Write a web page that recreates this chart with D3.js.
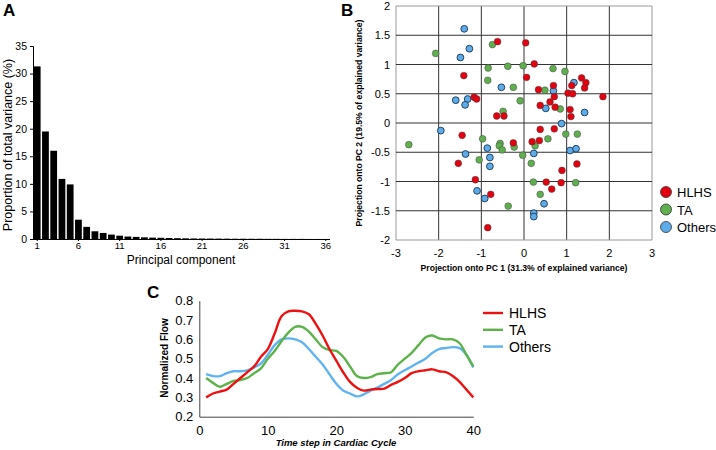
<!DOCTYPE html>
<html lang="en">
<head>
  <meta charset="UTF-8">
  <title>PCA of flow waveforms</title>
  <script src="https://d3js.org/d3.v7.min.js"></script>
  <style>
    body { margin: 0; background: #fff; }
    text { font-family: "Liberation Sans", Arial, sans-serif; }
  </style>
</head>
<body>
  <script>
    // --- panel A: explained variance per principal component
    const components = d3.range(1, 37);
    const variance = [31.3, 19.5, 16.0, 10.9, 9.9, 3.5, 2.2, 1.4, 1.1, 0.8,
      0.6, 0.45, 0.38, 0.3, 0.25, 0.22, 0.18, 0.15, 0.12, 0.1,
      0.09, 0.08, 0.07, 0.06, 0.05, 0.05, 0.04, 0.04, 0.03, 0.03,
      0.02, 0.02, 0.02, 0.01, 0.01, 0.01];
    const compTicks = [1, 6, 11, 16, 21, 26, 31, 36];

    // --- panel B: projections onto PC1 / PC2
    const hlhsPts = [[-0.62,1.39],[0.04,1.37],[0.24,1.01],[-1.41,0.81],[0.06,0.78],[0.34,0.57],
      [0.69,0.64],[0.71,0.45],[-1.17,0.44],[-1.11,0.41],[0.38,0.30],[0.61,0.36],[0.73,0.27],
      [-0.64,0.12],[-0.47,0.12],[1.03,0.51],[1.14,0.50],[1.12,0.64],[1.35,0.77],[1.45,0.69],
      [1.42,0.60],[1.08,0.23],[1.10,0.11],[0.38,-0.11],[0.71,-0.10],[-0.25,-0.34],[0.19,-0.32],
      [0.36,-0.30],[1.24,-0.70],[0.89,-0.81],[-1.14,-0.97],[0.52,-1.01],[0.87,-1.02],[0.65,-1.13],
      [-0.78,-1.22],[-1.45,-0.21],[-1.54,-0.69],[-0.85,-1.79],[1.85,0.45]];
    const taPts = [[-2.07,1.19],[-0.74,1.34],[-0.84,0.94],[-0.38,0.97],[-0.02,0.98],[0.68,0.93],
      [0.96,0.88],[-0.85,0.73],[-0.25,0.61],[0.49,0.56],[-0.09,0.38],[0.85,0.24],[-0.49,0.20],
      [0.98,-0.19],[1.25,-0.19],[-0.97,-0.27],[-0.56,-0.35],[-0.58,-0.39],[-0.51,-0.46],[-0.23,-0.41],
      [0.26,-0.39],[0.56,-0.27],[-0.03,-0.55],[-1.05,-0.63],[0.17,-0.69],[0.22,-1.01],[1.21,-1.02],
      [0.38,-1.22],[-0.37,-1.42],[-2.70,-0.37]];
    const otherPts = [[-1.40,1.61],[-1.28,1.27],[-1.49,1.12],[-0.53,0.61],[0.69,0.55],[-1.60,0.39],
      [-1.32,0.41],[-1.38,0.31],[0.51,0.25],[1.17,0.69],[1.42,0.18],[0.88,-0.01],[-0.86,-0.43],
      [0.23,-0.52],[-0.80,-0.59],[-0.80,-0.74],[1.08,-0.47],[1.22,-0.44],[-1.10,-1.16],[-0.92,-1.29],
      [0.47,-1.38],[-1.95,-0.13],[-1.37,-0.53],[0.23,-1.54],[0.23,-1.60]];
    const pcTicksX = [-3, -2, -1, 0, 1, 2, 3];
    const pcTicksY = [-2, -1.5, -1, -0.5, 0, 0.5, 1, 1.5, 2];

    // --- panel C: mean normalized flow over the cardiac cycle
    const timeSteps = d3.range(1, 41);
    const hlhsFlow = [0.30,0.32,0.33,0.34,0.37,0.40,0.43,0.46,0.51,0.55,
      0.63,0.72,0.745,0.748,0.745,0.73,0.68,0.62,0.55,0.49,
      0.43,0.38,0.35,0.335,0.34,0.343,0.345,0.365,0.38,0.40,
      0.425,0.435,0.44,0.445,0.435,0.43,0.41,0.38,0.34,0.30];
    const taFlow = [0.40,0.375,0.355,0.37,0.385,0.39,0.40,0.425,0.45,0.50,
      0.54,0.59,0.635,0.665,0.665,0.64,0.60,0.56,0.545,0.54,
      0.51,0.46,0.41,0.40,0.405,0.42,0.425,0.43,0.47,0.50,
      0.53,0.57,0.61,0.62,0.605,0.60,0.60,0.58,0.52,0.46];
    const otherFlow = [0.42,0.41,0.41,0.425,0.435,0.435,0.44,0.455,0.475,0.52,
      0.57,0.60,0.605,0.60,0.585,0.55,0.51,0.47,0.42,0.37,
      0.335,0.32,0.305,0.315,0.335,0.35,0.37,0.39,0.42,0.44,
      0.46,0.48,0.50,0.53,0.55,0.555,0.56,0.555,0.52,0.455];

    const groups = ["HLHS", "TA", "Others"];
    const dotColor = { HLHS: "#e3000f", TA: "#5faf4f", Others: "#5dacea" };
    const lineColor = { HLHS: "#ee1111", TA: "#5db24a", Others: "#5fb3f0" };

    const svg = d3.select("body").append("svg")
      .attr("width", 716).attr("height", 450);

    // panel letters
    [["A", 3, 16], ["B", 341, 16], ["C", 147, 298]].forEach(([t, x, y]) => {
      svg.append("text").attr("x", x).attr("y", y).text(t)
        .attr("font-size", 17).attr("font-weight", "bold");
    });

    // ================= A =================
    const xA = d3.scaleBand().domain(components).range([33, 330])
      .paddingInner(0.18).paddingOuter(0.1);
    const yA = d3.scaleLinear().domain([0, 35]).range([239, 46]);
    const gA = svg.append("g");

    gA.selectAll("rect").data(variance).enter().append("rect")
      .attr("x", (d, i) => xA(components[i]))
      .attr("width", xA.bandwidth())
      .attr("y", d => yA(d))
      .attr("height", d => yA(0) - yA(d))
      .attr("fill", "#000");

    gA.append("g").attr("transform", "translate(33,0)")
      .call(d3.axisLeft(yA).tickValues(d3.range(0, 36, 5)).tickSize(3).tickPadding(3))
      .call(g => g.selectAll("text").attr("font-size", 10.5).attr("font-family", "Liberation Sans, Arial"));
    gA.append("g").attr("transform", "translate(0,239)")
      .call(d3.axisBottom(xA).tickValues(compTicks).tickSize(2).tickPadding(1))
      .call(g => g.select(".domain").attr("d", "M33,0.5H330"))
      .call(g => g.selectAll("text").attr("font-size", 9.5).attr("font-family", "Liberation Sans, Arial"));

    gA.append("text").attr("x", 181).attr("y", 264).attr("text-anchor", "middle")
      .attr("font-size", 12).text("Principal component");
    gA.append("text").attr("transform", "translate(12,145) rotate(-90)")
      .attr("text-anchor", "middle").attr("font-size", 12.5)
      .text("Proportion of total variance (%)");

    // ================= B =================
    const xB = d3.scaleLinear().domain([-3, 3]).range([396, 652]);
    const yB = d3.scaleLinear().domain([-2, 2]).range([240, 6]);
    const gB = svg.append("g");

    gB.selectAll("line.gx").data(pcTicksX).enter().append("line")
      .attr("x1", d => xB(d)).attr("x2", d => xB(d))
      .attr("y1", yB(2)).attr("y2", yB(-2))
      .attr("stroke", d => (d === -3 || d === 3) ? "#999" : "#333").attr("stroke-width", 1);
    gB.selectAll("line.gy").data(pcTicksY).enter().append("line")
      .attr("x1", xB(-3)).attr("x2", xB(3))
      .attr("y1", d => yB(d)).attr("y2", d => yB(d))
      .attr("stroke", d => (d === -2 || d === 2) ? "#999" : "#333").attr("stroke-width", 1);

    gB.selectAll("text.tx").data(pcTicksX).enter().append("text")
      .attr("x", d => xB(d)).attr("y", 257).attr("text-anchor", "middle")
      .attr("font-size", 11).text(d => d);
    gB.selectAll("text.ty").data(pcTicksY).enter().append("text")
      .attr("x", 390).attr("y", d => yB(d) + 4).attr("text-anchor", "end")
      .attr("font-size", 11).text(d => d);

    const dotData = [].concat(
      otherPts.map(p => ({ g: "Others", x: p[0], y: p[1] })),
      taPts.map(p => ({ g: "TA", x: p[0], y: p[1] })),
      hlhsPts.map(p => ({ g: "HLHS", x: p[0], y: p[1] }))
    );
    gB.selectAll("circle.dot").data(dotData).enter().append("circle")
      .attr("cx", d => xB(d.x)).attr("cy", d => yB(d.y)).attr("r", 3.4)
      .attr("fill", d => dotColor[d.g])
      .attr("stroke", d => d.g === "Others" ? "#1d3550" : "#444")
      .attr("stroke-width", d => d.g === "Others" ? 0.9 : 0.5);

    gB.append("text").attr("x", 524).attr("y", 271).attr("text-anchor", "middle")
      .attr("font-size", 8.6).attr("font-weight", "bold")
      .text("Projection onto PC 1 (31.3% of explained variance)");
    gB.append("text").attr("transform", "translate(362,123) rotate(-90)")
      .attr("text-anchor", "middle").attr("font-size", 8.6).attr("font-weight", "bold")
      .text("Projection onto PC 2 (19.5% of explained variance)");

    const legB = gB.selectAll("g.leg").data(groups).enter().append("g")
      .attr("transform", (d, i) => `translate(666,${192 + i * 17.5})`);
    legB.append("circle").attr("r", 5.5)
      .attr("fill", d => dotColor[d]).attr("stroke", "#333").attr("stroke-width", 0.8);
    legB.append("text").attr("x", 11).attr("y", 5).attr("font-size", 13).text(d => d);

    // ================= C =================
    const xC = d3.scaleLinear().domain([0, 40]).range([199.3, 473.3]);
    const yC = d3.scaleLinear().domain([0.2, 0.8]).range([416.7, 300.7]);
    const gC = svg.append("g");

    gC.append("g").attr("transform", "translate(0,416.7)")
      .call(d3.axisBottom(xC).tickValues([0, 10, 20, 30, 40]).tickSize(0).tickPadding(9))
      .call(g => g.select(".domain").attr("stroke", "#444"))
      .call(g => g.selectAll("text").attr("font-size", 13).attr("font-family", "Liberation Sans, Arial"));
    gC.append("g").attr("transform", "translate(199.3,0)")
      .call(d3.axisLeft(yC).tickValues([0.2, 0.3, 0.4, 0.5, 0.6, 0.7, 0.8])
        .tickFormat(d3.format(".1f")).tickSize(0).tickPadding(6))
      .call(g => g.select(".domain").attr("stroke", "#444"))
      .call(g => g.selectAll("text").attr("font-size", 13).attr("font-family", "Liberation Sans, Arial"));

    const flows = [
      { g: "HLHS", v: hlhsFlow },
      { g: "TA", v: taFlow },
      { g: "Others", v: otherFlow }
    ];
    const line = d3.line()
      .x((d, i) => xC(timeSteps[i])).y(d => yC(d))
      .curve(d3.curveCatmullRom.alpha(0.5));
    gC.selectAll("path.flow").data(flows.slice().reverse()).enter().append("path")
      .attr("d", d => line(d.v))
      .attr("fill", "none").attr("stroke", d => lineColor[d.g]).attr("stroke-width", 2.4);

    gC.append("text").attr("x", 336).attr("y", 446).attr("text-anchor", "middle")
      .attr("font-size", 9.5).attr("font-weight", "bold").attr("font-style", "italic")
      .text("Time step in Cardiac Cycle");
    gC.append("text").attr("transform", "translate(168,358) rotate(-90)")
      .attr("text-anchor", "middle").attr("font-size", 10).attr("font-weight", "bold")
      .text("Normalized Flow");

    const legC = gC.selectAll("g.leg").data(groups).enter().append("g")
      .attr("transform", (d, i) => `translate(483,${313 + i * 16.8})`);
    legC.append("line").attr("x1", 0).attr("x2", 20)
      .attr("stroke", d => lineColor[d]).attr("stroke-width", 2.4);
    legC.append("text").attr("x", 26).attr("y", 5).attr("font-size", 14).text(d => d);
  </script>
</body>
</html>
